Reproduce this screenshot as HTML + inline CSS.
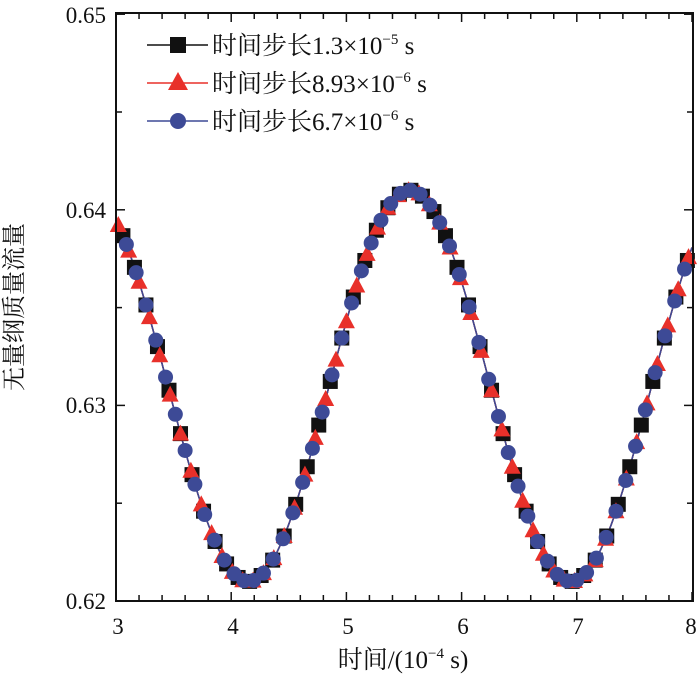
<!DOCTYPE html>
<html><head><meta charset="utf-8"><style>
body{margin:0;background:#fff;}
svg text{font-family:"Liberation Serif","Noto Serif CJK SC",serif;fill:#111;}
</style></head><body>
<svg id="s" width="700" height="678" xmlns="http://www.w3.org/2000/svg">
<g id="data"></g>
<rect x="116" y="13" width="577" height="588" fill="none" stroke="#111" stroke-width="2"/>
<g id="ticks" stroke="#111" stroke-width="1.5"></g>
<g font-size="23" text-anchor="middle">
<text x="118" y="634">3</text><text x="233" y="634">4</text><text x="348" y="634">5</text>
<text x="463" y="634">6</text><text x="578" y="634">7</text><text x="691" y="634">8</text>
</g>
<g font-size="23" text-anchor="end">
<text x="106" y="609">0.62</text><text x="106" y="413">0.63</text><text x="106" y="218">0.64</text><text x="106" y="23">0.65</text>
</g>
<text x="403" y="668" font-size="25" text-anchor="middle">时间/(10<tspan font-size="15" dy="-10">−4</tspan><tspan dy="10"> s)</tspan></text>
<text transform="translate(22,307) rotate(-90)" font-size="24" text-anchor="middle">无量纲质量流量</text>
<g font-size="25">
<line x1="147" y1="45" x2="208" y2="45" stroke="#111" stroke-width="1.5"/><rect x="170" y="37" width="16" height="16" fill="#111"/>
<text x="212" y="54">时间步长1.3×10<tspan font-size="15" dy="-10">−5</tspan><tspan dy="10"> s</tspan></text>
<line x1="147" y1="83" x2="208" y2="83" stroke="#e8302a" stroke-width="1.5"/><polygon points="178,72 188,90 168,90" fill="#e8302a"/>
<text x="212" y="92">时间步长8.93×10<tspan font-size="15" dy="-10">−6</tspan><tspan dy="10"> s</tspan></text>
<line x1="147" y1="121" x2="208" y2="121" stroke="#3d4a96" stroke-width="1.5"/><circle cx="178" cy="121" r="8" fill="#3d4a96"/>
<text x="212" y="130">时间步长6.7×10<tspan font-size="15" dy="-10">−6</tspan><tspan dy="10"> s</tspan></text>
</g>
</svg>
<script>
var X=t=>116+(t-3)*115.2, Y=v=>601-(v-0.62)*19560;
var f=t=>0.631-0.01*Math.cos(2*Math.PI*(t-4.15)/2.8);
var g=document.getElementById('data'),h='';
function line(c){var p=[];for(var t=3;t<=8.001;t+=0.02)p.push(X(t).toFixed(1)+','+Y(f(t)).toFixed(1));h+='<polyline points="'+p.join(' ')+'" fill="none" stroke="'+c+'" stroke-width="1.5"/>';}
line('#111');line('#e8302a');line('#3d4a96');
for(var t=3.06;t<=8;t+=0.1){var x=X(t),y=Y(f(t));h+='<rect x="'+(x-7.5)+'" y="'+(y-7.5)+'" width="15" height="15" fill="#111"/>';}
for(var t=3.02;t<=8;t+=0.09){var x=X(t),y=Y(f(t));h+='<polygon points="'+x+','+(y-9)+' '+(x+8.5)+','+(y+7)+' '+(x-8.5)+','+(y+7)+'" fill="#e8302a"/>';}
for(var t=3.09;t<=8;t+=0.085){var x=X(t),y=Y(f(t));h+='<circle cx="'+x+'" cy="'+y+'" r="7.5" fill="#3d4a96"/>';}
g.innerHTML=h;
var k='';
for(var i=0;i<=25;i++){var x=X(3+i*0.2),L=(i%5==0)?9:6;k+='<line x1="'+x+'" y1="601" x2="'+x+'" y2="'+(601-L)+'"/><line x1="'+x+'" y1="13" x2="'+x+'" y2="'+(13+L)+'"/>';}
for(var i=0;i<=6;i++){var y=Y(0.62+i*0.005),L=(i%2==0)?9:6;k+='<line x1="116" y1="'+y+'" x2="'+(116+L)+'" y2="'+y+'"/><line x1="693" y1="'+y+'" x2="'+(693-L)+'" y2="'+y+'"/>';}
document.getElementById('ticks').innerHTML=k;
</script>
</body></html>
